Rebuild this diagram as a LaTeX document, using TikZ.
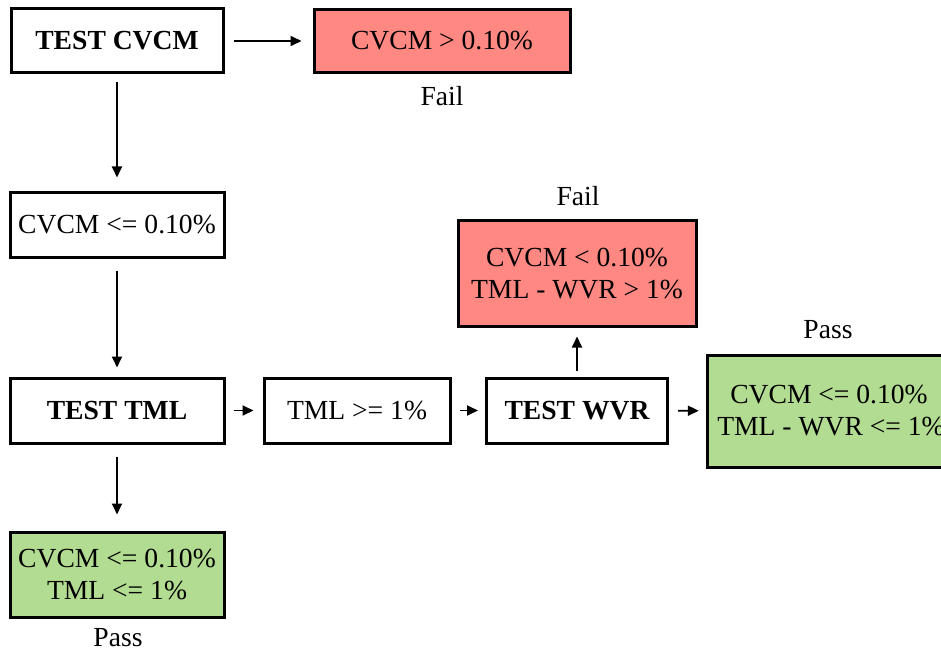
\documentclass[tikz,border=0pt]{standalone}
\usepackage{fontspec}
\setmainfont{Liberation Serif}
\usetikzlibrary{arrows.meta}
\definecolor{failred}{RGB}{255,137,130}
\definecolor{passgreen}{RGB}{178,220,145}
\tikzset{
  box/.style={draw=black, line width=3pt, inner sep=0pt, align=center,
    font=\fontsize{27.6}{32}\selectfont},
  boldbox/.style={box, font=\fontsize{27.6}{32}\selectfont\bfseries},
  failbox/.style={box, fill=failred},
  passbox/.style={box, fill=passgreen},
  lbl/.style={font=\fontsize{27.6}{32}\selectfont, inner sep=0pt},
  arr/.style={line width=1.8pt, -{Triangle[length=11pt,width=10pt]}},
}
\begin{document}
\begin{tikzpicture}[x=1pt,y=-1pt]
\useasboundingbox (0,0) rectangle (941,652);
\clip (0,0) rectangle (941,652);
\node[boldbox, minimum width=212pt, minimum height=64pt] (tc) at (117,41) {TEST CVCM};
\node[failbox, minimum width=256pt, minimum height=63pt] (f1) at (442,41) {CVCM > 0.10\%};
\node[lbl] (f1l) at (442,96) {Fail};
\node[box, minimum width=214pt, minimum height=64pt] (c1) at (117,225) {CVCM <= 0.10\%};
\node[boldbox, minimum width=214pt, minimum height=65pt] (tt) at (117,410.5) {TEST TML};
\node[box, minimum width=186pt, minimum height=65pt] (t1) at (357,410.5) {TML >= 1\%};
\node[boldbox, minimum width=181pt, minimum height=65pt] (tw) at (577,410.5) {TEST WVR};
\node[failbox, minimum width=238pt, minimum height=105pt] (f2) at (577,273.5) {CVCM < 0.10\%\\TML - WVR > 1\%};
\node[lbl] (f2l) at (578,196) {Fail};
\node[passbox, minimum width=236pt, minimum height=112pt] (p2) at (826,411) {\hspace*{6pt}CVCM <= 0.10\%\\\hspace*{10pt}TML - WVR <= 1\%};
\node[lbl] (p2l) at (828,330) {Pass};
\node[passbox, minimum width=214pt, minimum height=85pt] (p1) at (117,574.5) {CVCM <= 0.10\%\\TML <= 1\%};
\node[lbl] (p1l) at (118,638) {Pass};
\draw[arr, shorten <=9pt, shorten >=11pt] (tc) -- (f1);
\draw[arr, shorten <=8pt, shorten >=14pt] (tc) -- (c1);
\draw[arr, shorten <=12pt, shorten >=9pt] (c1) -- (tt);
\draw[arr, shorten <=8pt, shorten >=9pt] (tt) -- (t1);
\draw[arr, shorten <=8pt, shorten >=7pt] (t1) -- (tw);
\draw[arr, shorten <=6pt, shorten >=9pt] (tw) -- (f2);
\draw[arr, shorten <=9pt, shorten >=7pt] (tw) -- (p2);
\draw[arr, shorten <=12pt, shorten >=16pt] (tt) -- (p1);
\end{tikzpicture}
\end{document}
